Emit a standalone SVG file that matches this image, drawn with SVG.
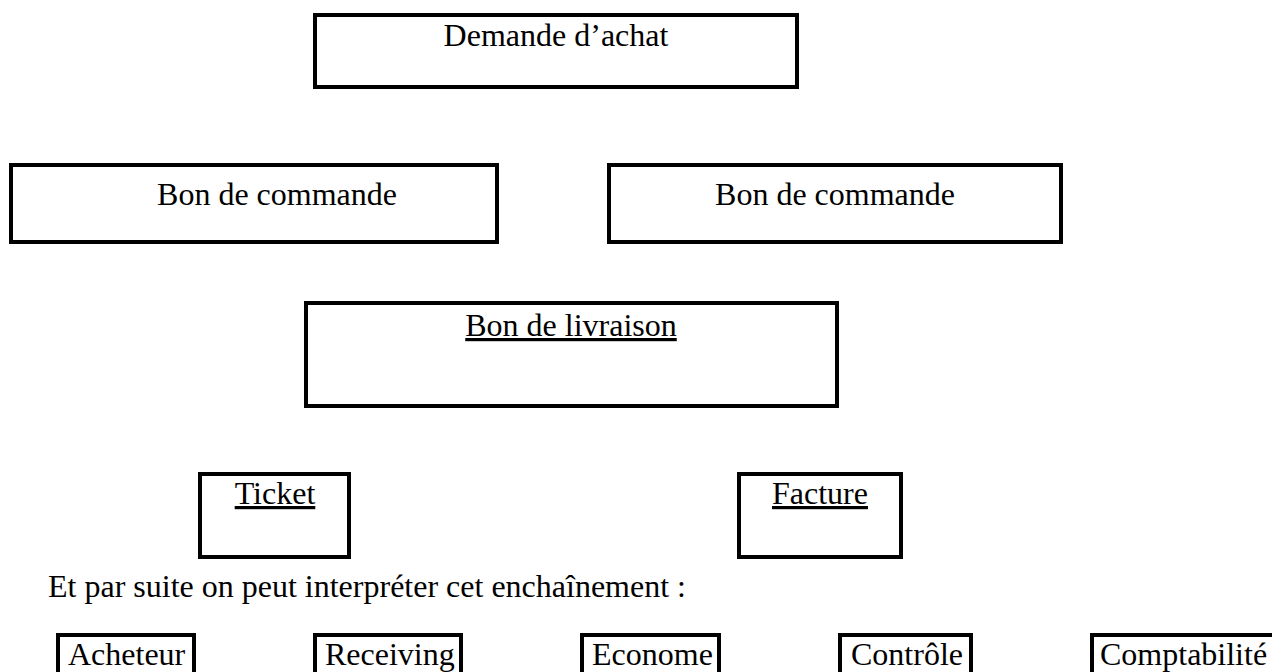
<svg xmlns="http://www.w3.org/2000/svg" width="1272" height="672" viewBox="0 0 1272 672">
<style>
.box{fill:#fff;stroke:#000;stroke-width:4}
.t{font-family:"Liberation Serif","Times New Roman",serif;font-size:32px;fill:#000}
.c{text-anchor:middle}
.u{text-decoration:underline}
</style>
<rect width="1272" height="672" fill="#fff"/>
<g id="demande"><rect class="box" x="315" y="15" width="482" height="72"/><text class="t c" x="556" y="46">Demande d’achat</text></g>
<g id="bc1"><rect class="box" x="11" y="165" width="486" height="77"/><text class="t c" x="277" y="205">Bon de commande</text></g>
<g id="bc2"><rect class="box" x="609" y="165" width="452" height="77"/><text class="t c" x="835" y="205">Bon de commande</text></g>
<g id="bl"><rect class="box" x="306" y="303" width="531" height="103"/><text class="t c u" x="571" y="336">Bon de livraison</text></g>
<g id="ticket"><rect class="box" x="200" y="474" width="149" height="83"/><text class="t c u" x="275" y="504">Ticket</text></g>
<g id="facture"><rect class="box" x="739" y="474" width="162" height="83"/><text class="t c u" x="820" y="504">Facture</text></g>
<text class="t" x="48" y="597">Et par suite on peut interpréter cet enchaînement :</text>
<g id="acheteur"><rect class="box" x="58" y="635" width="136" height="70"/><text class="t" x="68" y="665">Acheteur</text></g>
<g id="receiving"><rect class="box" x="315" y="635" width="146" height="70"/><text class="t" x="325" y="665">Receiving</text></g>
<g id="econome"><rect class="box" x="582" y="635" width="137" height="70"/><text class="t" x="592" y="665">Econome</text></g>
<g id="controle"><rect class="box" x="840" y="635" width="131" height="70"/><text class="t" x="851" y="665">Contrôle</text></g>
<g id="comptabilite"><rect class="box" x="1092" y="635" width="200" height="70"/><text class="t" x="1100" y="665">Comptabilité</text></g>
<g id="connectors"></g>
</svg>
